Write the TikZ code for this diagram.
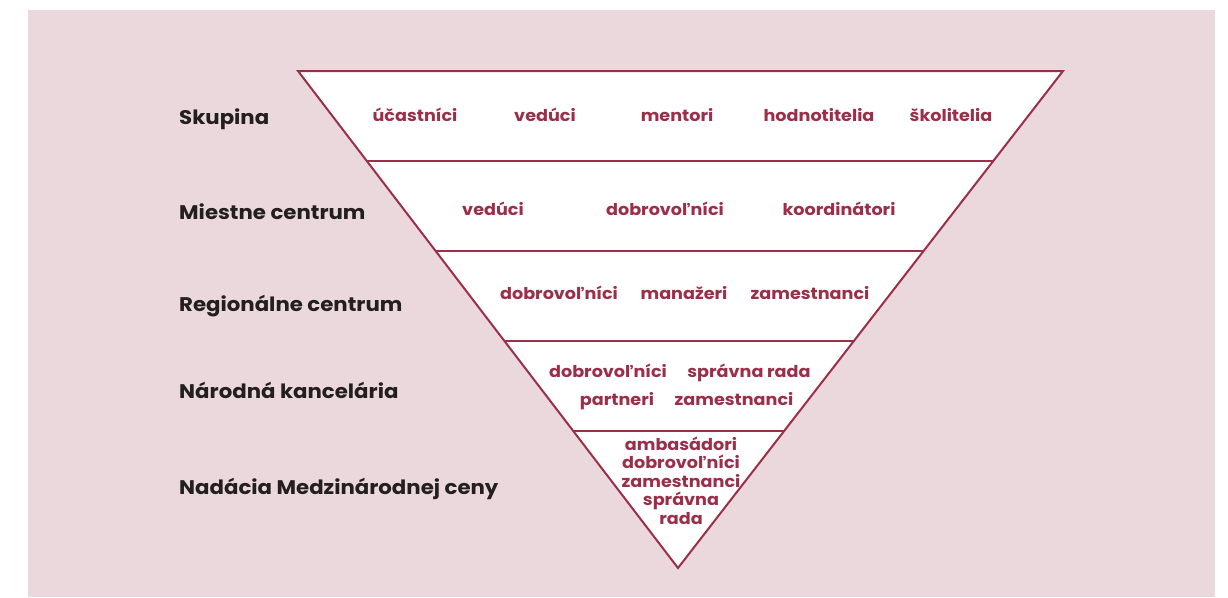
\documentclass[tikz,border=0pt]{standalone}
\usepackage{fontspec}
\setmainfont{Poppins}[FakeStretch=1.08]
\definecolor{bgpink}{HTML}{EAD8DC}
\definecolor{wine}{HTML}{9B2F4A}
\definecolor{ink}{HTML}{231F20}
\begin{document}
\begin{tikzpicture}[x=1pt,y=-1pt,
  lvl/.style={anchor=base west,font=\fontsize{19.7}{22}\selectfont\bfseries,text=ink,inner sep=0pt},
  role/.style={anchor=base,font=\fontsize{16.3}{18.5}\selectfont\bfseries,text=wine,inner sep=0pt},
  edge/.style={draw=wine,line width=2pt}]
\useasboundingbox (0,0) rectangle (1228,597);
\fill[bgpink] (28,10) rectangle (1215,597);
\coordinate (TL) at (298,71);
\coordinate (TR) at (1063,71);
\coordinate (AP) at (678,568);
\fill[white] (TL) -- (TR) -- (AP) -- cycle;
\foreach \y/\n in {161/a,251/b,341/c,431/d}{
  \path (TL) -- (AP) coordinate[pos={(\y-71)/497}] (L\n);
  \path (TR) -- (AP) coordinate[pos={(\y-71)/497}] (R\n);
  \draw[edge] (L\n) -- (R\n);
}
\draw[edge,line join=miter] (TL) -- (TR) -- (AP) -- cycle;
% level labels
\node[lvl] (l1) at (179,124) {Skupina};
\node[lvl] (l2) at (179,219) {Miestne centrum};
\node[lvl] (l3) at (179,311) {Regionálne centrum};
\node[lvl] (l4) at (179,398) {Národná kancelária};
\node[lvl] (l5) at (179,494) {Nadácia Medzinárodnej ceny};
% row 1
\node[role] (r11) at (415,121) {účastníci};
\node[role] (r12) at (545,121) {vedúci};
\node[role] (r13) at (677,121) {mentori};
\node[role] (r14) at (819,121) {hodnotitelia};
\node[role] (r15) at (951,121) {školitelia};
% row 2
\node[role] (r21) at (493,215) {vedúci};
\node[role] (r22) at (665,215) {dobrovoľníci};
\node[role] (r23) at (839,215) {koordinátori};
% row 3
\node[role] (r31) at (559,299) {dobrovoľníci};
\node[role] (r32) at (684,299) {manažeri};
\node[role] (r33) at (810,299) {zamestnanci};
% row 4
\node[role] (r41) at (608,377) {dobrovoľníci};
\node[role] (r42) at (749,377) {správna rada};
\node[role] (r43) at (617,405) {partneri};
\node[role] (r44) at (734,405) {zamestnanci};
% row 5
\node[role,anchor=center,align=center] (r5) at (681,480.5) {ambasádori\\dobrovoľníci\\zamestnanci\\správna\\rada};
\end{tikzpicture}
\end{document}
